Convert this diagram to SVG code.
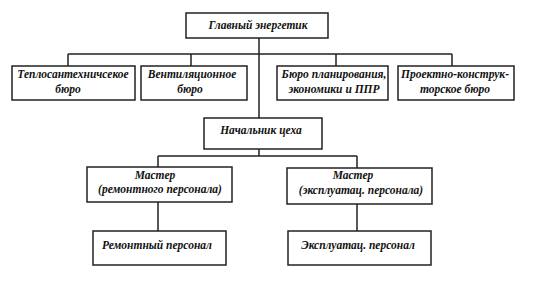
<svg xmlns="http://www.w3.org/2000/svg" width="535" height="284" viewBox="0 0 535 284">
<style>
.b{fill:#fff;stroke:#222;stroke-width:1.5}
text{font-family:"Liberation Serif","DejaVu Serif",serif;font-weight:bold;font-style:italic;font-size:11.5px;fill:#111;text-anchor:middle}
.c{fill:none;stroke:#222;stroke-width:1.5}
</style>
<rect width="535" height="284" fill="#fff"/>
<g id="connectors">
<path class="c" d="M259 38V118M68 54H452M68 54V66M191 54V66M336 54V66M452 54V66"/>
<path class="c" d="M259 149V156M158 156H357M158 156V167M357 156V168M158 202V231M357 204V231"/>
</g>
<g id="n1"><rect class="b" x="186" y="13" width="142" height="25"/><text x="258" y="29">Главный энергетик</text></g>
<g id="n2"><rect class="b" x="12" y="66" width="123" height="34"/><text x="73" y="78">Теплосантехничсекое</text><text x="68" y="93">бюро</text></g>
<g id="n3"><rect class="b" x="141" y="66" width="106" height="34"/><text x="192" y="78">Вентиляционное</text><text x="190" y="93">бюро</text></g>
<g id="n4"><rect class="b" x="277" y="66" width="111" height="34"/><text x="334" y="78">Бюро планирования,</text><text x="334" y="93">экономики и ППР</text></g>
<g id="n5"><rect class="b" x="398" y="66" width="116" height="34"/><text x="455" y="78">Проектно-конструк-</text><text x="455" y="93">торское бюро</text></g>
<g id="n6"><rect class="b" x="204" y="118" width="118" height="31"/><text x="261" y="134">Начальник цеха</text></g>
<g id="n7"><rect class="b" x="87" y="167" width="145" height="35"/><text x="155" y="179">Мастер</text><text x="160" y="193">(ремонтного персонала)</text></g>
<g id="n8"><rect class="b" x="287" y="168" width="145" height="36"/><text x="353" y="179">Мастер</text><text x="361" y="194">(эксплуатац. персонала)</text></g>
<g id="n9"><rect class="b" x="93" y="231" width="133" height="34"/><text x="157" y="249">Ремонтный персонал</text></g>
<g id="n10"><rect class="b" x="288" y="231" width="143" height="34"/><text x="358" y="249">Эксплуатац. персонал</text></g>
</svg>
